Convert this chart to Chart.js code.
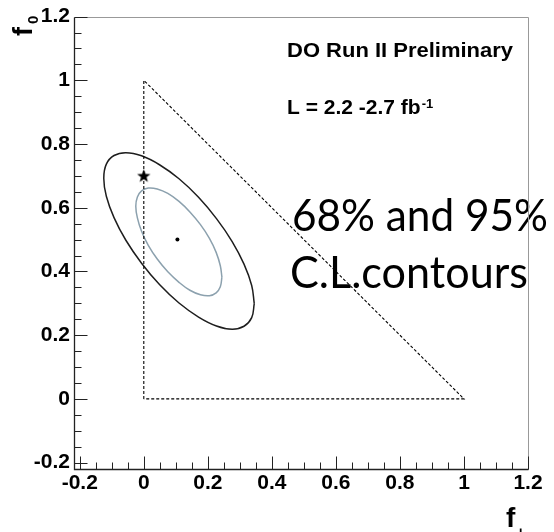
<!DOCTYPE html>
<html>
<head>
<meta charset="utf-8">
<script src="https://cdn.jsdelivr.net/npm/chart.js@4.4.1/dist/chart.umd.min.js"></script>
<style>
  html, body { margin: 0; padding: 0; background: #fff; }
  #wrap { width: 554px; height: 532px; position: relative; }
</style>
</head>
<body>
<div id="wrap"><canvas id="chart"></canvas></div>
<script>
// Axis ticks
const xTicks = [-0.2, 0, 0.2, 0.4, 0.6, 0.8, 1, 1.2];
const yTicks = [-0.2, 0, 0.2, 0.4, 0.6, 0.8, 1, 1.2];

// Physical region f0 + f+ <= 1 (dashed triangle)
const regionX = [0, 0, 1, 0];
const regionY = [0, 1, 0, 0];

// 95% C.L. contour
const outerX = [0.345, 0.337, 0.313, 0.276, 0.227, 0.171, 0.110, 0.049, -0.007, -0.056, -0.093, -0.117,
                -0.125, -0.117, -0.093, -0.056, -0.007, 0.049, 0.110, 0.171, 0.227, 0.276, 0.313, 0.337];
const outerY = [0.299, 0.356, 0.423, 0.494, 0.566, 0.633, 0.691, 0.735, 0.763, 0.773, 0.764, 0.737,
                0.693, 0.636, 0.569, 0.498, 0.426, 0.359, 0.301, 0.257, 0.229, 0.219, 0.228, 0.255];

// 68% C.L. contour
const innerX = [0.244, 0.239, 0.226, 0.205, 0.177, 0.144, 0.110, 0.075, 0.042, 0.014, -0.007, -0.020,
                -0.025, -0.020, -0.007, 0.014, 0.042, 0.075, 0.110, 0.144, 0.177, 0.205, 0.226, 0.239];
const innerY = [0.382, 0.418, 0.460, 0.504, 0.547, 0.587, 0.620, 0.645, 0.659, 0.662, 0.653, 0.634,
                0.605, 0.568, 0.526, 0.482, 0.439, 0.399, 0.366, 0.341, 0.327, 0.324, 0.333, 0.352];

// Best fit point and SM expectation (star)
const fitX = [0.105];
const fitY = [0.5];
const smX = [0];
const smY = [0.7];

const toPoints = (xs, ys) => xs.map((x, i) => ({ x: x, y: ys[i] }));
const closeLoop = (pts) => pts.concat([pts[0]]);

// Filled five point star marker
const makeStar = () => {
  const c = document.createElement("canvas");
  c.width = 15;
  c.height = 15;
  const g = c.getContext("2d");
  g.beginPath();
  for (let i = 0; i < 10; i++) {
    const r = i % 2 === 0 ? 7 : 2.9;
    const a = -Math.PI / 2 + (i * Math.PI) / 5;
    const px = 7.5 + r * Math.cos(a);
    const py = 7.8 + r * Math.sin(a);
    if (i === 0) g.moveTo(px, py);
    else g.lineTo(px, py);
  }
  g.closePath();
  g.fillStyle = "#000";
  g.fill();
  return c;
};

const fmt = (v) => String(Math.round(v * 10) / 10);
const labelFont = { family: "'Liberation Sans', Arial, sans-serif", size: 21, weight: "bold" };

// Draw text squeezed/stretched to a given width
const fitText = (ctx, text, x, y, font, width) => {
  ctx.font = font;
  const w = ctx.measureText(text).width;
  ctx.save();
  ctx.translate(x, y);
  ctx.scale(width / w, 1);
  ctx.fillText(text, 0, 0);
  ctx.restore();
};

// Annotations and axis titles
const annotations = {
  id: "annotations",
  afterDatasetsDraw(chart) {
    const ctx = chart.ctx;
    ctx.save();
    ctx.fillStyle = "#000";
    ctx.textAlign = "left";
    ctx.textBaseline = "alphabetic";

    fitText(ctx, "DO Run II Preliminary", 287, 57, "bold 21px 'Liberation Sans'", 226);

    ctx.font = "bold 21px 'Liberation Sans'";
    const lumi = "L = 2.2 -2.7 fb";
    ctx.fillText(lumi, 287, 114);
    const lw = ctx.measureText(lumi).width;
    ctx.font = "bold 13px 'Liberation Sans'";
    ctx.fillText("-1", 287 + lw + 1, 108);

    fitText(ctx, "68% and 95%", 292, 231, "44px Lato", 256);
    fitText(ctx, "C.L.contours", 290, 288, "44px Lato", 238);

    // f0 (rotated)
    ctx.save();
    ctx.translate(32, 36);
    ctx.rotate(-Math.PI / 2);
    ctx.font = "bold 27px 'Liberation Sans'";
    ctx.fillText("f", 0, 0);
    ctx.font = "bold 15px 'Liberation Sans'";
    ctx.fillText("0", 12, 6);
    ctx.restore();

    // f+
    ctx.font = "bold 28px 'Liberation Sans'";
    ctx.fillText("f", 506, 527);
    ctx.font = "bold 16px 'Liberation Sans'";
    ctx.fillText("+", 516, 538);
    ctx.restore();
  },
};

// Frame and inward tick marks
const frame = {
  id: "frame",
  afterDraw(chart) {
    const { ctx, chartArea: a, scales } = chart;
    const L = Math.round(a.left) + 0.5;
    const R = Math.round(a.right) + 0.5;
    const T = Math.round(a.top) + 0.5;
    const B = Math.round(a.bottom) + 0.5;
    ctx.save();

    ctx.strokeStyle = "#999";
    ctx.lineWidth = 1;
    ctx.beginPath();
    ctx.moveTo(L, T);
    ctx.lineTo(R, T);
    ctx.lineTo(R, B);
    ctx.stroke();

    ctx.strokeStyle = "#222";
    ctx.lineWidth = 1.3;
    ctx.beginPath();
    ctx.moveTo(L, T);
    ctx.lineTo(L, B);
    ctx.lineTo(R, B);
    ctx.stroke();

    const minors = (ticks) => {
      const out = [];
      for (let i = 0; i < ticks.length - 1; i++) {
        const step = (ticks[i + 1] - ticks[i]) / 4;
        for (let k = 1; k < 4; k++) out.push(ticks[i] + k * step);
      }
      return out;
    };

    ctx.lineWidth = 1;
    ctx.beginPath();
    xTicks.forEach((v) => {
      const px = Math.round(scales.x.getPixelForValue(v)) + 0.5;
      ctx.moveTo(px, B);
      ctx.lineTo(px, B - 13);
    });
    minors(xTicks).forEach((v) => {
      const px = Math.round(scales.x.getPixelForValue(v)) + 0.5;
      ctx.moveTo(px, B);
      ctx.lineTo(px, B - 7);
    });
    yTicks.forEach((v) => {
      const py = Math.round(scales.y.getPixelForValue(v)) + 0.5;
      ctx.moveTo(L, py);
      ctx.lineTo(L + 13, py);
    });
    minors(yTicks).forEach((v) => {
      const py = Math.round(scales.y.getPixelForValue(v)) + 0.5;
      ctx.moveTo(L, py);
      ctx.lineTo(L + 7, py);
    });
    ctx.stroke();
    ctx.restore();
  },
};

new Chart(document.getElementById("chart"), {
  type: "scatter",
  data: {
    datasets: [
      {
        label: "f0 + f+ <= 1",
        data: toPoints(regionX, regionY),
        showLine: true,
        borderColor: "#000",
        borderWidth: 1.1,
        borderDash: [3, 2],
        pointRadius: 0,
        tension: 0,
      },
      {
        label: "95% C.L.",
        data: closeLoop(toPoints(outerX, outerY)),
        showLine: true,
        borderColor: "#1e1e1e",
        borderWidth: 1.5,
        pointRadius: 0,
        tension: 0.4,
      },
      {
        label: "68% C.L.",
        data: closeLoop(toPoints(innerX, innerY)),
        showLine: true,
        borderColor: "#8ca1ae",
        borderWidth: 1.5,
        pointRadius: 0,
        tension: 0.4,
      },
      {
        label: "best fit",
        data: toPoints(fitX, fitY),
        pointRadius: 2,
        backgroundColor: "#000",
        borderColor: "#000",
        borderWidth: 0,
      },
      {
        label: "SM",
        data: toPoints(smX, smY),
        pointStyle: makeStar(),
        pointRadius: 7,
      },
    ],
  },
  options: {
    responsive: true,
    maintainAspectRatio: false,
    animation: false,
    events: [],
    layout: { padding: { left: 0, top: 15, right: 26, bottom: 0 } },
    plugins: {
      legend: { display: false },
      tooltip: { enabled: false },
    },
    scales: {
      x: {
        type: "linear",
        min: -0.218,
        max: 1.2,
        afterBuildTicks: (scale) => {
          scale.ticks = xTicks.map((v) => ({ value: v }));
        },
        afterFit: (scale) => {
          scale.height = 63;
        },
        grid: { display: false, drawTicks: false },
        border: { display: false },
        ticks: {
          font: labelFont,
          color: "#000",
          padding: 2,
          maxRotation: 0,
          autoSkip: false,
          callback: fmt,
        },
      },
      y: {
        type: "linear",
        min: -0.22,
        max: 1.2,
        afterBuildTicks: (scale) => {
          scale.ticks = yTicks.map((v) => ({ value: v }));
        },
        afterFit: (scale) => {
          scale.width = 74;
        },
        grid: { display: false, drawTicks: false },
        border: { display: false },
        ticks: {
          font: labelFont,
          color: "#000",
          padding: 4,
          autoSkip: false,
          callback: fmt,
        },
      },
    },
  },
  plugins: [annotations, frame],
});
</script>
</body>
</html>
